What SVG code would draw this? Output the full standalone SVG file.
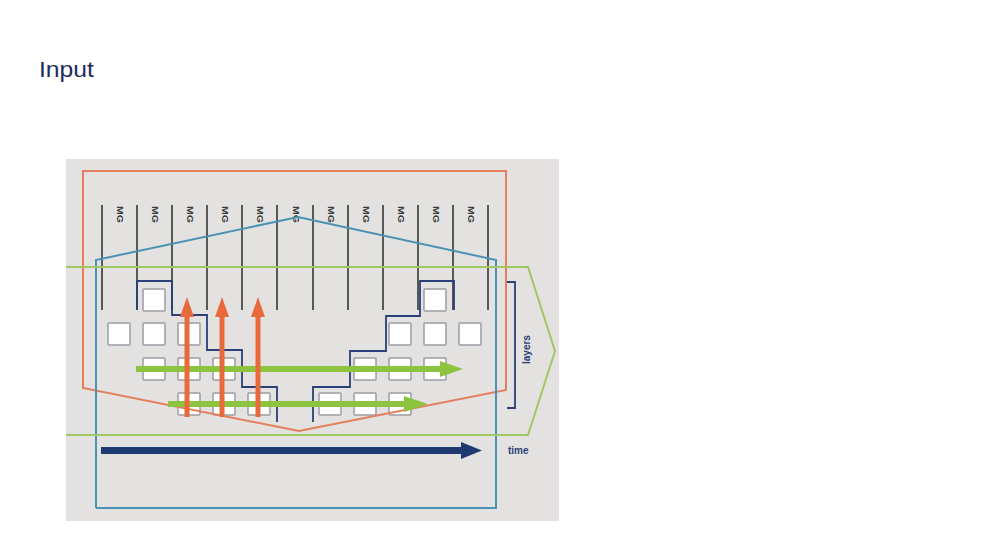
<svg xmlns="http://www.w3.org/2000/svg" width="994" height="559" viewBox="0 0 994 559">
<style>
.mgline{stroke:#2a2a2a;stroke-width:1.5}
.mg{font-family:"Liberation Sans",Arial,sans-serif;font-size:8.5px;font-weight:bold;fill:#3a3a3a}
.box{fill:#ffffff;stroke:#9a9ca3;stroke-width:1.5}
.stair{fill:none;stroke:#2b3f78;stroke-width:1.8}
.lbl{font-family:"Liberation Sans",Arial,sans-serif;font-size:10px;font-weight:bold;fill:#2b3f78}
</style>
<rect width="994" height="559" fill="#ffffff"/>
<text x="39" y="77" font-family="Liberation Sans,Arial,sans-serif" font-size="22" textLength="55" lengthAdjust="spacingAndGlyphs" fill="#1f2d5a">Input</text>
<rect id="panel" x="66" y="159" width="493" height="362" fill="#e4e2e0"/>

<g id="mg-columns">
<line class="mgline" x1="102" y1="205" x2="102" y2="310"/>
<line class="mgline" x1="137" y1="205" x2="137" y2="310"/>
<line class="mgline" x1="172" y1="205" x2="172" y2="310"/>
<line class="mgline" x1="207" y1="205" x2="207" y2="310"/>
<line class="mgline" x1="242" y1="205" x2="242" y2="310"/>
<line class="mgline" x1="277" y1="205" x2="277" y2="310"/>
<line class="mgline" x1="313" y1="205" x2="313" y2="310"/>
<line class="mgline" x1="348" y1="205" x2="348" y2="310"/>
<line class="mgline" x1="383" y1="205" x2="383" y2="310"/>
<line class="mgline" x1="418" y1="205" x2="418" y2="310"/>
<line class="mgline" x1="453" y1="205" x2="453" y2="310"/>
<line class="mgline" x1="488" y1="205" x2="488" y2="310"/>
<text class="mg" transform="translate(117,206) rotate(90)" textLength="17" lengthAdjust="spacingAndGlyphs">MG</text>
<text class="mg" transform="translate(152,206) rotate(90)" textLength="17" lengthAdjust="spacingAndGlyphs">MG</text>
<text class="mg" transform="translate(187,206) rotate(90)" textLength="17" lengthAdjust="spacingAndGlyphs">MG</text>
<text class="mg" transform="translate(222,206) rotate(90)" textLength="17" lengthAdjust="spacingAndGlyphs">MG</text>
<text class="mg" transform="translate(257,206) rotate(90)" textLength="17" lengthAdjust="spacingAndGlyphs">MG</text>
<text class="mg" transform="translate(293,206) rotate(90)" textLength="17" lengthAdjust="spacingAndGlyphs">MG</text>
<text class="mg" transform="translate(328,206) rotate(90)" textLength="17" lengthAdjust="spacingAndGlyphs">MG</text>
<text class="mg" transform="translate(363,206) rotate(90)" textLength="17" lengthAdjust="spacingAndGlyphs">MG</text>
<text class="mg" transform="translate(398,206) rotate(90)" textLength="17" lengthAdjust="spacingAndGlyphs">MG</text>
<text class="mg" transform="translate(433,206) rotate(90)" textLength="17" lengthAdjust="spacingAndGlyphs">MG</text>
<text class="mg" transform="translate(468,206) rotate(90)" textLength="17" lengthAdjust="spacingAndGlyphs">MG</text>
</g>

<g id="boxes">
<rect class="box" x="143" y="289" width="22" height="22" rx="1"/>
<rect class="box" x="424" y="289" width="22" height="22" rx="1"/>
<rect class="box" x="108" y="323" width="22" height="22" rx="1"/>
<rect class="box" x="143" y="323" width="22" height="22" rx="1"/>
<rect class="box" x="178" y="323" width="22" height="22" rx="1"/>
<rect class="box" x="389" y="323" width="22" height="22" rx="1"/>
<rect class="box" x="424" y="323" width="22" height="22" rx="1"/>
<rect class="box" x="459" y="323" width="22" height="22" rx="1"/>
<rect class="box" x="143" y="358" width="22" height="22" rx="1"/>
<rect class="box" x="178" y="358" width="22" height="22" rx="1"/>
<rect class="box" x="213" y="358" width="22" height="22" rx="1"/>
<rect class="box" x="354" y="358" width="22" height="22" rx="1"/>
<rect class="box" x="389" y="358" width="22" height="22" rx="1"/>
<rect class="box" x="424" y="358" width="22" height="22" rx="1"/>
<rect class="box" x="178" y="393" width="22" height="22" rx="1"/>
<rect class="box" x="213" y="393" width="22" height="22" rx="1"/>
<rect class="box" x="248" y="393" width="22" height="22" rx="1"/>
<rect class="box" x="319" y="393" width="22" height="22" rx="1"/>
<rect class="box" x="354" y="393" width="22" height="22" rx="1"/>
<rect class="box" x="389" y="393" width="22" height="22" rx="1"/>
</g>

<g id="connectors">
<polyline class="stair" points="137,310 137,281 172,281 172,315 207,315 207,350 242,350 242,387 277,387 277,422"/>
<polyline class="stair" points="313,422 313,387 350,387 350,351 386,351 386,316 420,316 420,281 454,281 454,310"/>
<polyline class="stair" points="507,282 515,282 515,408 507,408"/>
<polygon points="83,171 506,171 506,390 299,431 83,388" fill="none" stroke="#e57e5c" stroke-width="2"/>
<polyline points="96,508 96,260 298,217 496,260 496,508 96,508" fill="none" stroke="#4a93b6" stroke-width="2"/>
<polyline points="66,267 528,267 555,351 528,435 66,435" fill="none" stroke="#a2c760" stroke-width="2"/>
<rect x="136" y="366" width="306" height="6" fill="#8dc43f"/>
<polygon points="440,361 463,369 440,377" fill="#8dc43f"/>
<rect x="168" y="401" width="238" height="6" fill="#8dc43f"/>
<polygon points="404,396 428,404 404,412" fill="#8dc43f"/>
<rect x="184.5" y="314" width="5" height="103" fill="#e8693a"/>
<polygon points="180,317 187,297 194,317" fill="#e8693a"/>
<rect x="219.5" y="314" width="5" height="103" fill="#e8693a"/>
<polygon points="215,317 222,297 229,317" fill="#e8693a"/>
<rect x="255.5" y="314" width="5" height="103" fill="#e8693a"/>
<polygon points="251,317 258,297 265,317" fill="#e8693a"/>
<rect x="101" y="447" width="363" height="7" fill="#1f3a73"/>
<polygon points="461,442 482,450.5 461,459" fill="#1f3a73"/>
</g>

<text class="lbl" x="508" y="454">time</text>
<text class="lbl" transform="translate(530,364) rotate(-90)">layers</text>
</svg>
